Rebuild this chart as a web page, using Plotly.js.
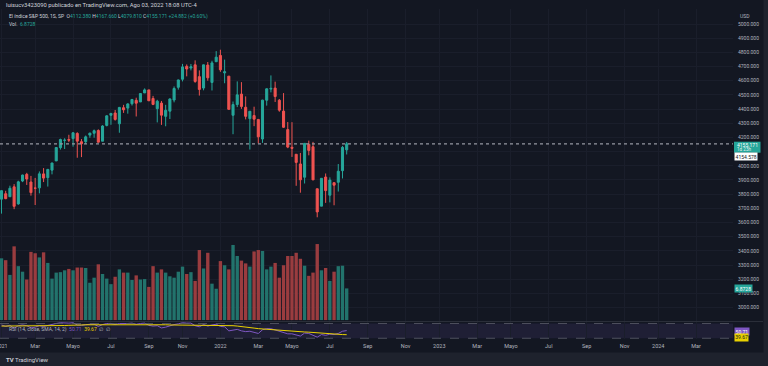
<!DOCTYPE html>
<html><head><meta charset="utf-8">
<script src="https://cdn.plot.ly/plotly-3.0.1.min.js"></script>
<style>html,body{margin:0;padding:0;background:#131722;overflow:hidden}#chart{width:768px;height:366px}</style>
</head><body><div id="chart"></div>
<script>
const weeks = [
'2021-01-04','2021-01-11','2021-01-18','2021-01-25','2021-02-01','2021-02-08','2021-02-15','2021-02-22','2021-03-01','2021-03-08',
'2021-03-15','2021-03-22','2021-03-29','2021-04-05','2021-04-12','2021-04-19','2021-04-26','2021-05-03','2021-05-10','2021-05-17',
'2021-05-24','2021-05-31','2021-06-07','2021-06-14','2021-06-21','2021-06-28','2021-07-05','2021-07-12','2021-07-19','2021-07-26',
'2021-08-02','2021-08-09','2021-08-16','2021-08-23','2021-08-30','2021-09-06','2021-09-13','2021-09-20','2021-09-27','2021-10-04',
'2021-10-11','2021-10-18','2021-10-25','2021-11-01','2021-11-08','2021-11-15','2021-11-22','2021-11-29','2021-12-06','2021-12-13',
'2021-12-20','2021-12-27',
'2022-01-03','2022-01-10','2022-01-17','2022-01-24','2022-01-31','2022-02-07','2022-02-14','2022-02-21','2022-02-28','2022-03-07',
'2022-03-14','2022-03-21','2022-03-28','2022-04-04','2022-04-11','2022-04-18','2022-04-25','2022-05-02','2022-05-09','2022-05-16',
'2022-05-23','2022-05-30','2022-06-06','2022-06-13','2022-06-20','2022-06-27','2022-07-04','2022-07-11','2022-07-18','2022-07-25',
'2022-08-01'];
const open = [3764.61,3803.14,3781.88,3851.68,3731.17,3892.59,3939.61,3885.55,3842.51,3844.39,
3942.96,3916.48,3969.31,4034.44,4127.99,4179.80,4185.03,4191.98,4228.29,4169.92,
4170.16,4216.52,4229.34,4248.87,4173.40,4284.90,4356.46,4372.41,4296.40,4409.58,
4406.86,4437.77,4461.65,4450.29,4513.76,4535.38,4474.81,4402.95,4442.12,4348.84,
4385.44,4463.72,4553.69,4610.62,4701.48,4689.30,4712.00,4628.75,4548.37,4710.30,
4587.90,4733.99,
4778.14,4655.34,4632.24,4356.32,4431.79,4505.75,4412.61,4332.74,4354.17,4327.01,
4188.82,4462.40,4541.09,4547.97,4462.64,4385.63,4255.34,4130.61,4081.27,4013.02,
3919.42,4151.09,4134.72,3838.15,3715.31,3920.76,3792.61,3880.94,3883.79,3965.72,
4112.38];
const high = [3826.69,3823.60,3859.75,3870.90,3894.71,3937.23,3950.43,3928.65,3914.50,3960.27,
3983.87,3978.19,4020.63,4129.48,4191.31,4194.17,4218.78,4238.04,4236.39,4188.72,
4213.42,4234.12,4255.59,4257.16,4286.12,4356.46,4372.51,4393.68,4415.18,4429.97,
4440.82,4468.37,4480.26,4513.33,4545.85,4535.38,4492.99,4465.40,4457.30,4429.97,
4475.82,4559.67,4608.08,4718.50,4714.92,4717.75,4743.83,4672.95,4713.57,4731.99,
4740.74,4808.93,
4818.62,4748.83,4632.24,4453.23,4595.31,4590.03,4489.55,4385.34,4416.78,4327.01,
4465.40,4546.03,4637.30,4593.45,4471.00,4512.94,4308.45,4307.66,4081.27,4090.72,
4158.49,4177.51,4168.78,3838.15,3913.65,3945.86,3918.50,3880.94,4012.44,4140.15,
4167.66];
const low = [3662.71,3764.71,3780.48,3694.12,3725.60,3884.94,3865.06,3789.54,3723.34,3805.59,
3885.23,3853.50,3939.64,4034.44,4114.36,4118.38,4167.21,4134.95,4056.88,4061.41,
4154.28,4197.59,4198.01,4164.40,4173.40,4278.08,4289.37,4318.61,4233.13,4373.00,
4367.73,4425.00,4347.80,4450.29,4513.76,4457.66,4427.76,4305.91,4288.52,4278.94,
4329.92,4447.47,4537.36,4595.06,4630.86,4672.78,4585.43,4495.12,4532.38,4600.22,
4531.10,4733.99,
4662.74,4582.24,4395.34,4222.62,4414.01,4401.41,4327.22,4114.65,4279.54,4157.87,
4161.72,4424.30,4517.69,4450.04,4381.34,4267.62,4124.28,4062.51,3858.87,3810.32,
3875.13,4073.85,3900.16,3636.87,3715.31,3738.67,3742.06,3721.56,3818.63,3910.74,
4079.81];
const close = [3824.68,3768.25,3841.47,3714.24,3886.83,3934.83,3906.71,3811.15,3841.94,3943.34,
3913.10,3974.54,4019.87,4128.80,4185.47,4180.17,4181.17,4232.60,4173.85,4155.86,
4204.11,4229.89,4247.44,4166.45,4280.70,4352.34,4369.55,4327.16,4411.79,4395.26,
4436.52,4468.00,4441.67,4509.37,4535.43,4458.58,4432.99,4455.48,4357.04,4391.34,
4471.37,4544.90,4605.38,4697.53,4682.85,4697.96,4594.62,4538.43,4712.02,4620.64,
4725.79,4766.18,
4677.03,4662.85,4397.94,4431.85,4500.53,4418.64,4348.87,4384.65,4328.87,4204.31,
4463.12,4543.06,4545.86,4488.28,4392.59,4271.78,4131.93,4123.34,4023.89,3901.36,
4158.24,4108.54,3900.86,3674.84,3911.74,3825.33,3899.38,3863.16,3961.63,4130.29,
4155.171];
const volume = [13.4,13.0,9.8,16.0,11.7,10.5,8.8,14.8,14.5,13.6,
14.7,12.4,9.0,10.3,10.4,10.8,11.1,10.8,11.4,11.4,
11.3,8.1,9.2,12.1,10.0,9.0,7.8,9.4,11.0,10.3,
10.3,8.7,9.7,8.8,8.9,7.2,11.7,10.3,11.0,10.3,
9.5,9.2,10.5,11.6,10.0,10.4,8.5,15.2,11.2,14.6,
7.9,6.8,
12.8,11.9,11.0,16.3,13.9,12.9,12.3,11.6,14.9,15.2,
15.0,11.0,11.6,12.4,9.2,11.9,13.9,13.9,14.6,13.3,
11.8,9.6,10.3,16.5,10.8,11.3,8.5,10.5,11.7,11.8,
6.8728];
const rsi = [66,62,65,57,64,66,64,58,60,64,
62,64,66,70,72,71,71,72,66,65,
67,68,68,62,67,70,70,67,70,69,
70,71,68,70,71,65,63,64,58,60,
64,67,69,72,71,71,64,61,67,63,
66,68,
62,61,50,51,54,50,48,49,47,43,
53,56,56,53,50,46,42,42,39,36,
44,43,38,33,40,38,41,40,43,49,
50.71];
const rsiMa = [63,63,63.5,63,63,63.5,63.5,63,62.5,62.5,
62.5,62.5,63,63.5,64,64.5,65,66,66,66,
66.5,66.5,67,67,67.5,67.5,67.5,67.5,67.5,67.5,
67.5,68,68,68,68.5,68.5,68,67.5,67,66.5,
66,66,66,66,66,66,66,65.5,65.5,65.5,
66,66,
66,66,65,64,63,62,60.5,59,57.5,56,
55,54,53.5,53,52,51.5,51,50,49,48,
47,46.5,45.5,44,43.5,42.5,41.5,41,40.5,40,
39.67];
const monthTickDates = ['2021-01-04','2021-03-01','2021-05-03','2021-07-05','2021-09-06','2021-11-01',
'2022-01-03','2022-03-07','2022-05-02','2022-07-04','2022-09-05','2022-11-07',
'2023-01-02','2023-03-06','2023-05-01','2023-07-03','2023-09-04','2023-11-06',
'2024-01-01','2024-03-04'];
const monthTickLabels = ['2021','Mar','Mayo','Jul','Sep','Nov',
'2022','Mar','Mayo','Jul','Sep','Nov',
'2023','Mar','Mayo','Jul','Sep','Nov',
'2024','Mar'];
const priceTicks = [3000,3100,3200,3300,3400,3500,3600,3700,3800,3900,4000,4100,4200,4300,4400,4500,4600,4700,4800,4900,5000];
// 4100.000 is hidden behind the last-price label in the reference
const priceTickLabels = ['3000.000','3100.000','3200.000','3300.000','3400.000','3500.000','3600.000','3700.000','3800.000','3900.000','4000.000','','4200.000','4300.000','4400.000','4500.000','4600.000','4700.000','4800.000','4900.000','5000.000'];

const lastPrice = close[close.length-1];
const lastVol = volume[volume.length-1];
const lastRsi = rsi[rsi.length-1];
const lastRsiMa = rsiMa[rsiMa.length-1];

const UP='#26a69a', DN='#ef5350', VUP='#22736c', VDN='#9a3c3f';
const FONT='Roboto, sans-serif';
const PW=733, PH=339;
const px = x => x/PW;
const py = y => (PH-y)/PH;

const volColors = close.map((c,i)=> c>=open[i] ? VUP : VDN);

const traces = [
 {type:'bar', x:weeks, y:volume, xaxis:'x', yaxis:'y2', marker:{color:volColors, line:{width:0}},
  width:7*86400000*0.8, hoverinfo:'skip'},
 {type:'candlestick', x:weeks, open:open, high:high, low:low, close:close, xaxis:'x', yaxis:'y',
  increasing:{line:{color:UP,width:1}, fillcolor:UP}, decreasing:{line:{color:DN,width:1}, fillcolor:DN},
  whiskerwidth:0, hoverinfo:'skip'},
 {type:'scatter', mode:'lines', x:weeks, y:rsi, xaxis:'x', yaxis:'y3', line:{color:'#7e57c2', width:1}, hoverinfo:'skip'},
 {type:'scatter', mode:'lines', x:weeks, y:rsiMa, xaxis:'x', yaxis:'y3', line:{color:'#e8d100', width:1}, hoverinfo:'skip'}
];

const gridC = '#1a1e2b';
const layout = {
 width:768, height:366, margin:{l:0,r:35,t:0,b:27},
 paper_bgcolor:'#131722', plot_bgcolor:'#131722', showlegend:false,
 font:{family:FONT, color:'#b2b5be', size:5},
 xaxis:{type:'date', range:['2021-01-01 12:30','2024-05-04 08:00'], anchor:'y3',
   tickmode:'array', tickvals:monthTickDates, ticktext:monthTickLabels,
   tickfont:{size:5.5, color:'#b2b5be', family:FONT}, showgrid:true, gridcolor:gridC, gridwidth:1,
   ticks:'', showline:false, zeroline:false, rangeslider:{visible:false}, ticklabelstandoff:2,
   ticklabeloverflow:'allow'},
 yaxis:{domain:[py(321), py(9)], range:[2905.5, 5105.8], side:'right', anchor:'x',
   tickmode:'array', tickvals:priceTicks, ticktext:priceTickLabels,
   tickfont:{size:5, color:'#b2b5be', family:FONT}, showgrid:true, gridcolor:gridC, gridwidth:1,
   ticks:'', showline:false, zeroline:false, ticklabelstandoff:4},
 yaxis2:{overlaying:'y', range:[-0.2, 67.5], visible:false, showgrid:false, zeroline:false},
 yaxis3:{domain:[0, py(322)], range:[28,74], anchor:'x', visible:false, showgrid:false, zeroline:false},
 shapes:[
  {type:'rect', xref:'paper', yref:'y3', x0:0, x1:1, y0:30, y1:70, fillcolor:'rgba(126,87,194,0.12)', line:{width:0}, layer:'below'},
  {type:'line', xref:'paper', yref:'y3', x0:0, x1:1, y0:70, y1:70, line:{color:'#5d606b', width:0.8, dash:'dash'}},
  {type:'line', xref:'paper', yref:'y3', x0:0, x1:1, y0:30, y1:30, line:{color:'#5d606b', width:0.8, dash:'dash'}},
  {type:'line', xref:'paper', yref:'y', x0:0, x1:1, y0:lastPrice, y1:lastPrice, line:{color:'#9598a1', width:1.2, dash:'dot'}},
  {type:'line', xref:'paper', yref:'paper', x0:0, x1:px(763), y0:py(321.5), y1:py(321.5), line:{color:'#2a2e39', width:1}},
  {type:'rect', xref:'paper', yref:'paper', x0:px(-2), x1:px(770), y0:py(368), y1:py(352.5), fillcolor:'#1e222d', line:{width:0}, layer:'above'},
  {type:'rect', xref:'paper', yref:'paper', x0:px(763.5), x1:px(770), y0:py(368), y1:py(-2), fillcolor:'#1e222d', line:{width:0}, layer:'above'},
  {type:'rect', xref:'paper', yref:'paper', x0:px(734), x1:px(760.5), y0:py(152.7), y1:py(141.7), fillcolor:UP, line:{width:0}, layer:'above'}
 ],
 annotations:[
  {xref:'paper', yref:'paper', x:px(4), y:py(5), xanchor:'left', yanchor:'middle', showarrow:false,
   text:'luisucv3423090 publicado en TradingView.com, Ago 03, 2022 18:08 UTC-4', font:{size:5.8, color:'#d1d4dc', family:FONT}},
  {xref:'paper', yref:'paper', x:px(7), y:py(16), xanchor:'left', yanchor:'middle', showarrow:false,
   text:'El índice S&P 500, 1S, SP  O<span style="color:#26a69a">4112.380</span> H<span style="color:#26a69a">4167.660</span> L<span style="color:#26a69a">4079.810</span> C<span style="color:#26a69a">4155.171 +24.882 (+0.60%)</span>',
   font:{size:5, color:'#d1d4dc', family:FONT}},
  {xref:'paper', yref:'paper', x:px(7), y:py(24), xanchor:'left', yanchor:'middle', showarrow:false,
   text:'Vol.  <span style="color:#26a69a">6.8728</span>', font:{size:5, color:'#d1d4dc', family:FONT}},
  {xref:'paper', yref:'paper', x:px(738), y:py(15.5), xanchor:'left', yanchor:'middle', showarrow:false,
   text:'USD', font:{size:5, color:'#b2b5be', family:FONT}},
  {xref:'paper', yref:'paper', x:px(736), y:py(144.6), xanchor:'left', yanchor:'middle', showarrow:false,
   text:'4155.171', borderpad:0, font:{size:5, color:'#ffffff', family:FONT}},
  {xref:'paper', yref:'paper', x:px(736), y:py(149.8), xanchor:'left', yanchor:'middle', showarrow:false,
   text:'1d 23h', borderpad:0, font:{size:4.6, color:'#e8f5f3', family:FONT}},
  {xref:'paper', yref:'paper', x:px(734), y:py(156.4), xanchor:'left', yanchor:'middle', showarrow:false,
   text:'4154.578', bgcolor:'#ffffff', borderpad:0.6, font:{size:5, color:'#131722', family:FONT}},
  {xref:'paper', yref:'y2', x:px(734), y:lastVol, xanchor:'left', yanchor:'middle', showarrow:false,
   text:'6.8728', bgcolor:UP, borderpad:0.6, font:{size:5, color:'#ffffff', family:FONT}},
  {xref:'paper', yref:'paper', x:px(734), y:py(331.8), xanchor:'left', yanchor:'middle', showarrow:false,
   text:lastRsi.toFixed(2), bgcolor:'#7e57c2', borderpad:0.6, font:{size:5, color:'#ffffff', family:FONT}},
  {xref:'paper', yref:'paper', x:px(734), y:py(337.6), xanchor:'left', yanchor:'middle', showarrow:false,
   text:lastRsiMa.toFixed(2), bgcolor:'#e8d100', borderpad:0.3, font:{size:5, color:'#131722', family:FONT}},
  {xref:'paper', yref:'paper', x:px(7), y:py(329.5), xanchor:'left', yanchor:'middle', showarrow:false,
   text:'RSI (14, close, SMA, 14, 2)  <span style="color:#7e57c2">50.71</span>  <span style="color:#e8d100">39.67</span>  ∅  ∅',
   font:{size:5, color:'#b2b5be', family:FONT}},
  {xref:'paper', yref:'paper', x:px(4), y:py(359), xanchor:'left', yanchor:'middle', showarrow:false,
   text:'<b>TV</b> TradingView', font:{size:6, color:'#d1d4dc', family:FONT}}
 ]
};
Plotly.newPlot('chart', traces, layout, {staticPlot:true, displayModeBar:false});
</script></body></html>
